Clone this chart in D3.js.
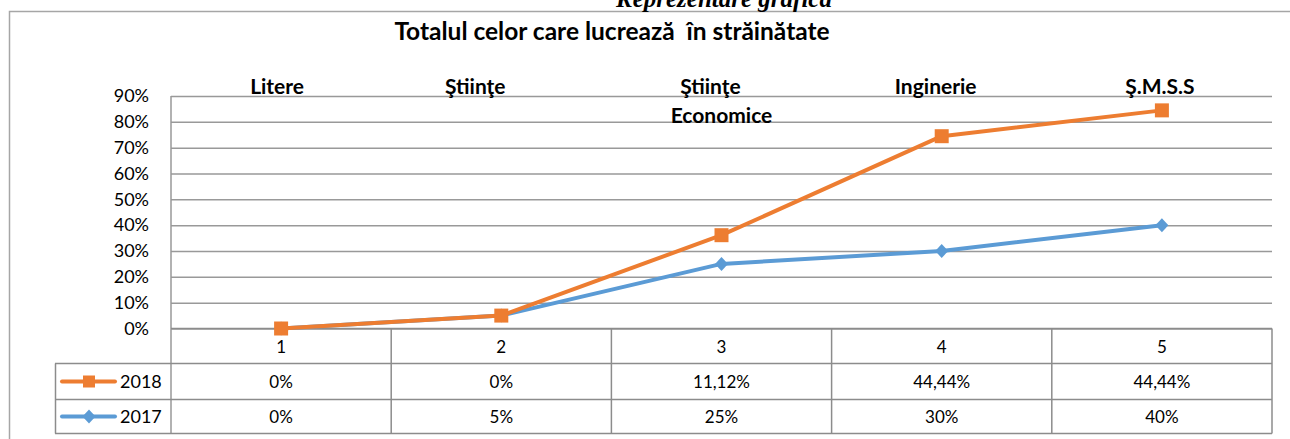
<!DOCTYPE html>
<html lang="ro">
<head>
<meta charset="UTF-8">
<title>Totalul celor care lucrează în străinătate</title>
<style>
    body { margin: 0; background: #fff; }
    text { font-family: Lato, "Open Sans", sans-serif; fill: #000; }
</style>
</head>
<body>
<div id="chart" style="width:1290px;height:439px;"></div>
<script src="https://cdn.jsdelivr.net/npm/d3@7"></script>
<script>
// data
var categories = ["1", "2", "3", "4", "5"];
var fieldLabels = [["Litere"], ["Ştiinţe"], ["Ştiinţe", "Economice"], ["Inginerie"], ["Ş.M.S.S"]];
var seriesNames = ["2018", "2017"];
var values2018 = [0, 0, 11.12, 44.44, 44.44];
var values2017 = [0, 5, 25, 30, 40];
var tableText2018 = ["0%", "0%", "11,12%", "44,44%", "44,44%"];
var tableText2017 = ["0%", "5%", "25%", "30%", "40%"];
var yTicks = [0, 10, 20, 30, 40, 50, 60, 70, 80, 90];

var width = 1290, height = 439;
var plotLeft = 171, plotRight = 1272, plotTop = 96, plotBottom = 328.5;
var rowTop = [328.5, 363.5, 399.5], rowBottom = 433.5;
var colors = {"2018": "#ED7D31", "2017": "#5B9BD5"};
var gridColor = "#999999";

var svg = d3.select("#chart").append("svg")
    .attr("width", width)
    .attr("height", height);

// frame
svg.append("path")
    .attr("d", "M9.5," + height + "V11.5H" + width)
    .attr("fill", "none")
    .attr("stroke", "#a6a6a6")
    .attr("stroke-width", 1.5);

svg.append("text")
    .attr("x", 724).attr("y", 7)
    .attr("text-anchor", "middle")
    .style("font-family", "'Liberation Serif', serif")
    .style("font-style", "italic")
    .style("font-weight", "bold")
    .style("font-size", "25px")
    .text("Reprezentare grafică");

svg.append("text")
    .attr("x", 612).attr("y", 40)
    .attr("text-anchor", "middle")
    .style("white-space", "pre")
    .style("font-weight", "bold")
    .style("font-size", "24.5px")
    .text("Totalul celor care lucrează  în străinătate");

// scales
var x = d3.scaleBand().domain(categories).range([plotLeft, plotRight]);
var y = d3.scaleLinear().domain([0, 90]).range([plotBottom, plotTop]);
var cx = function (c) { return x(c) + x.bandwidth() / 2; };

// y axis + gridlines
var yAxis = d3.axisLeft(y)
    .tickValues(yTicks)
    .tickSize(-(plotRight - plotLeft))
    .tickPadding(22)
    .tickFormat(function (d) { return d + "%"; });

var gy = svg.append("g")
    .attr("transform", "translate(" + plotLeft + ",0)")
    .call(yAxis);
gy.select(".domain").remove();
gy.selectAll(".tick line").attr("stroke", gridColor).attr("stroke-width", 1.5);
gy.selectAll(".tick text")
    .style("font-family", "Lato, 'Open Sans', sans-serif")
    .style("font-size", "18px")
    .attr("fill", "#000");

svg.append("line")
    .attr("x1", plotLeft).attr("x2", plotLeft)
    .attr("y1", plotTop).attr("y2", rowBottom)
    .attr("stroke", gridColor).attr("stroke-width", 1.5);

// field labels
var labelShift = [[-4], [-26], [-11, 0], [-6], [-2]];
categories.forEach(function (c, i) {
    var t = svg.append("text")
        .attr("text-anchor", "middle")
        .style("font-weight", "bold")
        .style("font-size", "21px");
    fieldLabels[i].forEach(function (line, j) {
        t.append("tspan")
            .attr("x", cx(c) + labelShift[i][j])
            .attr("y", 94 + j * 29)
            .text(line);
    });
});

// data table
var tableG = svg.append("g");
rowTop.concat([rowBottom]).forEach(function (yy, i) {
    tableG.append("line")
        .attr("x1", i == 0 ? plotLeft : 55).attr("x2", plotRight)
        .attr("y1", yy).attr("y2", yy)
        .attr("stroke", "#8c8c8c").attr("stroke-width", 1.5);
});
x.domain().forEach(function (c) {
    tableG.append("line")
        .attr("x1", x(c) + x.bandwidth()).attr("x2", x(c) + x.bandwidth())
        .attr("y1", plotBottom).attr("y2", rowBottom)
        .attr("stroke", "#8c8c8c").attr("stroke-width", 1.5);
});
tableG.append("line")
    .attr("x1", 55.5).attr("x2", 55.5)
    .attr("y1", rowTop[1]).attr("y2", rowBottom)
    .attr("stroke", "#8c8c8c").attr("stroke-width", 1.5);

tableG.selectAll(".cat")
    .data(categories)
    .enter().append("text")
    .attr("class", "cat")
    .attr("x", cx)
    .attr("y", 353)
    .attr("text-anchor", "middle")
    .style("font-size", "17px")
    .text(function (d) { return d; });

var tableRows = [tableText2018, tableText2017];
tableRows.forEach(function (row, r) {
    var ymid = (rowTop[r + 1] + (r == 0 ? rowTop[2] : rowBottom)) / 2;
    tableG.selectAll(".cell" + r)
        .data(row)
        .enter().append("text")
        .attr("x", function (d, i) { return cx(categories[i]); })
        .attr("y", ymid + 6)
        .attr("text-anchor", "middle")
        .style("font-size", "17px")
        .text(function (d) { return d; });
});

// markers
var diamond = {
    draw: function (ctx, size) {
        var w = 6.5, h = 7;
        ctx.moveTo(0, -h); ctx.lineTo(w, 0); ctx.lineTo(0, h); ctx.lineTo(-w, 0); ctx.closePath();
    }
};
var markerSym = {
    "2018": d3.symbol(d3.symbolSquare, 196),
    "2017": d3.symbol(diamond, 100)
};

// legend keys in table
seriesNames.forEach(function (s, r) {
    var ymid = (rowTop[r + 1] + (r == 0 ? rowTop[2] : rowBottom)) / 2;
    tableG.append("line")
        .attr("x1", 62).attr("x2", 115)
        .attr("y1", ymid).attr("y2", ymid)
        .attr("stroke", colors[s]).attr("stroke-width", 4)
        .attr("stroke-linecap", "round");
    tableG.append("path")
        .attr("transform", "translate(89," + ymid + ")")
        .attr("d", s == "2018" ? d3.symbol(d3.symbolSquare, 144)() : d3.symbol(diamond)())
        .attr("fill", colors[s]);
    tableG.append("text")
        .attr("x", 120).attr("y", ymid + 6)
        .style("font-size", "18px")
        .text(s);
});

// stacked lines
var rows = categories.map(function (c, i) {
    return {cat: c, "2017": values2017[i], "2018": values2018[i]};
});
var stack = d3.stack().keys(["2017", "2018"]);
var stacked = stack(rows);

var line = d3.line()
    .x(function (d) { return cx(d.data.cat); })
    .y(function (d) { return y(d[1]); });

stacked.forEach(function (series) {
    var s = series.key;
    var g = svg.append("g");
    g.append("path")
        .datum(series)
        .attr("d", line)
        .attr("fill", "none")
        .attr("stroke", colors[s])
        .attr("stroke-width", 4)
        .attr("stroke-linejoin", "round");
    g.selectAll(".m")
        .data(series)
        .enter().append("path")
        .attr("transform", function (d) { return "translate(" + cx(d.data.cat) + "," + y(d[1]) + ")"; })
        .attr("d", markerSym[s]())
        .attr("fill", colors[s]);
});
</script>
</body>
</html>
